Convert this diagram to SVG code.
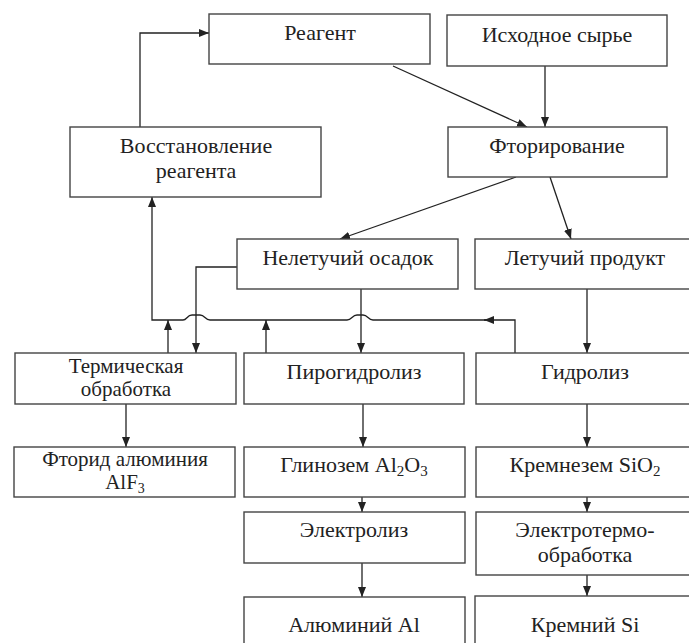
<svg xmlns="http://www.w3.org/2000/svg" width="689" height="643" viewBox="0 0 689 643">
<defs>
<marker id="ah" markerUnits="userSpaceOnUse" markerWidth="10" markerHeight="8" refX="10" refY="4" orient="auto">
<path d="M0,0 L10,4 L0,8 z" fill="#222"/>
</marker>
<style>
.box{fill:#fff;stroke:#444;stroke-width:1.4}
.t{font-family:'Liberation Serif',serif;font-size:22px;fill:#222;text-anchor:middle}
.s{font-size:21px}
.c{fill:none;stroke:#222;stroke-width:1.3}
.a{marker-end:url(#ah)}
</style>
</defs>
<rect width="689" height="643" fill="#fff"/>
<g id="connectors">
<path class="c a" d="M140 127 V33 H209"/>
<path class="c a" d="M393 66 L527 127"/>
<path class="c a" d="M545 66 V127"/>
<path class="c a" d="M516 177 L340 239"/>
<path class="c a" d="M550 177 L571 239"/>
<path class="c a" d="M237 267 H196 V353"/>
<path class="c a" d="M361 289 V353"/>
<path class="c a" d="M587 289 V353"/>
<path class="c a" d="M515 353 V320 H484"/>
<path class="c a" d="M486 320 H373 C368 320 368 315 363 315 H357 C352 315 352 320 347 320 H210 C205 320 205 315 200 315 H192 C187 315 187 320 183 320 H152 V197"/>
<path class="c a" d="M168 353 V320"/>
<path class="c a" d="M266 353 V320"/>
<path class="c a" d="M126 404 V447"/>
<path class="c a" d="M363 404 V447"/>
<path class="c a" d="M587 404 V447"/>
<path class="c a" d="M362 497 V512"/>
<path class="c a" d="M362 563 V597"/>
<path class="c a" d="M587 497 V512"/>
<path class="c a" d="M587 575 V596"/>
</g>
<g font-family="Liberation Serif, serif">
<g id="reagent"><rect class="box" x="209" y="14" width="221" height="50"/><text class="t" x="320" y="40">Реагент</text></g>
<g id="raw"><rect class="box" x="447" y="15" width="220" height="51"/><text class="t" x="557" y="42">Исходное сырье</text></g>
<g id="recovery"><rect class="box" x="70" y="127" width="251" height="70"/><text class="t" x="196" y="153">Восстановление</text><text class="t" x="196" y="178">реагента</text></g>
<g id="fluorination"><rect class="box" x="448" y="127" width="219" height="50"/><text class="t" x="557" y="153">Фторирование</text></g>
<g id="residue"><rect class="box" x="237" y="239" width="221" height="50"/><text class="t" x="348" y="265">Нелетучий осадок</text></g>
<g id="volatile"><rect class="box" x="475" y="239" width="225" height="50"/><text class="t" x="585" y="265">Летучий продукт</text></g>
<g id="thermal"><rect class="box" x="15" y="353" width="221" height="51"/><text class="t s" x="126" y="373">Термическая</text><text class="t s" x="126" y="396">обработка</text></g>
<g id="pyrohydrolysis"><rect class="box" x="244" y="353" width="220" height="51"/><text class="t" x="354" y="379">Пирогидролиз</text></g>
<g id="hydrolysis"><rect class="box" x="476" y="353" width="225" height="51"/><text class="t" x="585" y="379">Гидролиз</text></g>
<g id="alf3"><rect class="box" x="14" y="447" width="221" height="50"/><text class="t s" x="125" y="466">Фторид алюминия</text><text class="t s" x="125" y="489">AlF<tspan font-size="14" dy="4">3</tspan></text></g>
<g id="alumina"><rect class="box" x="244" y="447" width="221" height="50"/><text class="t" x="354" y="472">Глинозем Al<tspan font-size="15" dy="4">2</tspan><tspan dy="-4">O</tspan><tspan font-size="15" dy="4">3</tspan></text></g>
<g id="silica"><rect class="box" x="476" y="447" width="225" height="50"/><text class="t" x="585" y="472">Кремнезем SiO<tspan font-size="15" dy="4">2</tspan></text></g>
<g id="electrolysis"><rect class="box" x="244" y="512" width="221" height="51"/><text class="t" x="354" y="537">Электролиз</text></g>
<g id="electrothermal"><rect class="box" x="476" y="512" width="225" height="63"/><text class="t" x="585" y="537">Электротермо-</text><text class="t" x="585" y="562">обработка</text></g>
<g id="aluminium"><rect class="box" x="244" y="597" width="221" height="60"/><text class="t" x="354" y="632">Алюминий Al</text></g>
<g id="silicon"><rect class="box" x="475" y="596" width="226" height="60"/><text class="t" x="585" y="632">Кремний Si</text></g>
</g>
</svg>
